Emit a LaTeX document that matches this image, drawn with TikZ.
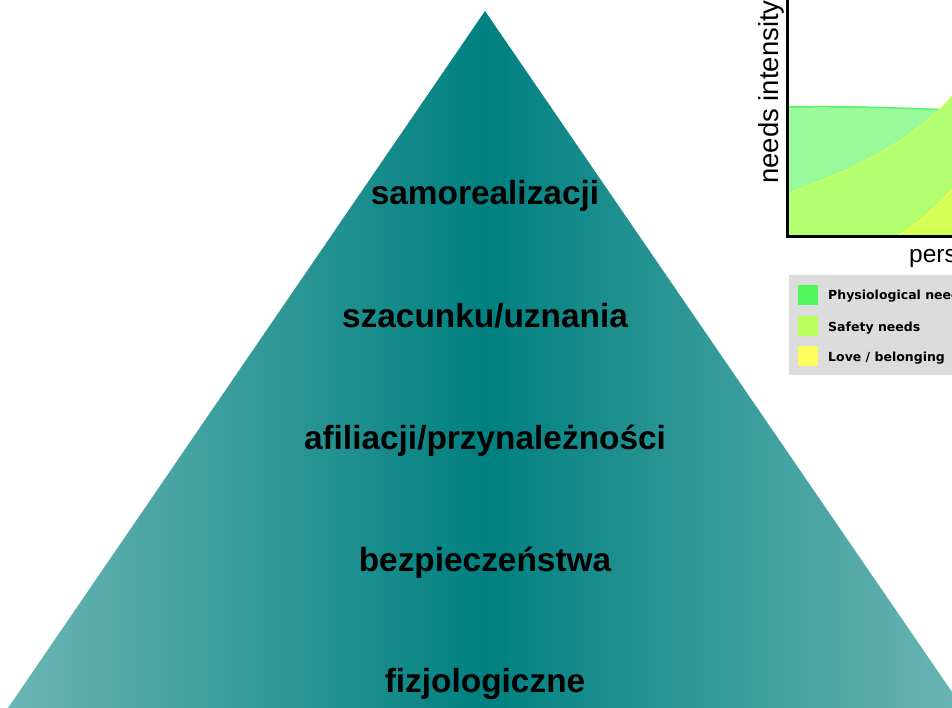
\documentclass[tikz,border=0pt]{standalone}
\usepackage{fontspec}
\setmainfont{Liberation Sans}
\newfontfamily\dejavu{DejaVu Sans}
\begin{document}
\begin{tikzpicture}[x=1pt,y=-1pt,
  level/.style={inner sep=0pt,anchor=base,font=\fontsize{33.4}{40}\selectfont\bfseries,text=black},
  legtext/.style={inner sep=0pt,anchor=base west,font=\dejavu\fontsize{12.5}{15}\selectfont\bfseries,text=black},
  swatch/.style={minimum width=20pt,minimum height=20pt,inner sep=0pt,anchor=north west},
  axislabel/.style={inner sep=0pt,font=\fontsize{27.5}{32}\selectfont,text=black}]
\definecolor{tealedge}{RGB}{108,182,180}
\definecolor{tealmid}{RGB}{0,128,128}
\definecolor{physfill}{RGB}{152,250,155}
\definecolor{physline}{RGB}{90,240,100}
\definecolor{safefill}{RGB}{178,255,112}
\definecolor{safeline}{RGB}{220,255,80}
\definecolor{lovefill}{RGB}{212,255,84}
\definecolor{loveline}{RGB}{250,255,80}
\definecolor{legbg}{RGB}{220,220,220}
\definecolor{swphys}{RGB}{80,245,92}
\definecolor{swsafe}{RGB}{184,255,92}
\definecolor{swlove}{RGB}{255,255,92}
\useasboundingbox (0,0) rectangle (952,708);
\clip (0,0) rectangle (952,708);
\fill[white] (0,0) rectangle (952,708);
% pyramid
\shade[left color=tealedge,right color=tealedge,middle color=tealmid]
  (485,11) -- (963,708) -- (8,708) -- cycle;
\node[level] (l5) at (485,205) {samorealizacji};
\node[level] (l4) at (485,327) {szacunku/uznania};
\node[level] (l3) at (485,449) {afiliacji/przynależności};
\node[level] (l2) at (485,571) {bezpieczeństwa};
\node[level] (l1) at (485,692) {fizjologiczne};
% chart
\begin{scope}
\clip (788,0) rectangle (952,235);
\fill[physfill] (788,107) .. controls (850,106) and (900,108) .. (952,110) -- (952,240) -- (788,240) -- cycle;
\draw[physline,line width=1.5pt] (788,107) .. controls (850,106) and (900,108) .. (952,110);
\fill[safefill] (788,193) .. controls (850,172) and (915,140) .. (952,96) -- (952,240) -- (788,240) -- cycle;
\draw[safeline,line width=1pt] (788,193) .. controls (850,172) and (915,140) .. (952,96);
\fill[lovefill] (898,236) .. controls (920,222) and (940,205) .. (952,189) -- (952,240) -- cycle;
\draw[loveline,line width=1.2pt] (898,236) .. controls (920,222) and (940,205) .. (952,189);
\end{scope}
\coordinate (origin) at (787.5,235);
\coordinate (ytop) at (787.5,0);
\coordinate (xend) at (952,235);
\draw[black,line width=3.5pt] (ytop) -- (origin |- 0,236.75) -- (xend |- 0,236.75);
\node[axislabel,rotate=90,anchor=base west] (ylab) at (778,184) {needs intensity};
\node[axislabel,font=\fontsize{24.5}{28}\selectfont,anchor=base west] (xlab) at (909,263) {pers};
% legend
\fill[legbg] (789,275) rectangle (952,375);
\node[swatch,fill=swphys] (s1) at (798,285) {};
\node[swatch,fill=swsafe] (s2) at (798,316) {};
\node[swatch,fill=swlove] (s3) at (798,346) {};
\node[legtext] (t1) at (828,300) {Physiological needs};
\node[legtext] (t2) at (828,331) {Safety needs};
\node[legtext] (t3) at (828,361) {Love / belonging};
\end{tikzpicture}
\end{document}
